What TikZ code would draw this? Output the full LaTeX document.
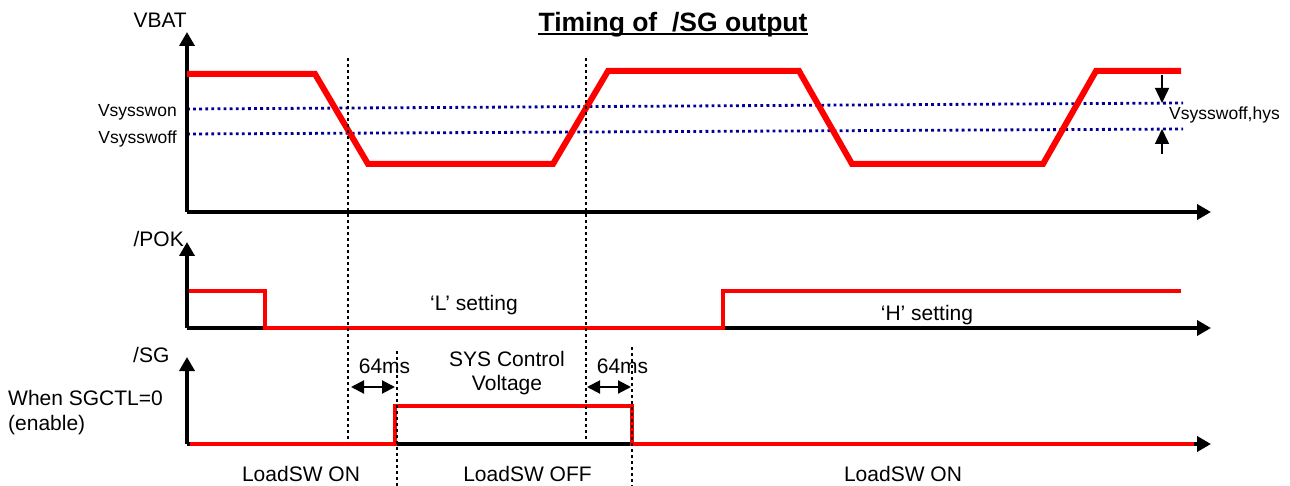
\documentclass[tikz,border=0pt]{standalone}
\usepackage{fontspec}
\setmainfont{Liberation Sans}
\usetikzlibrary{arrows.meta}
\definecolor{thrblue}{RGB}{0,0,150}
\definecolor{sigred}{RGB}{255,0,0}
\tikzset{
  axisline/.style={line width=3.8pt,-{Triangle[length=14pt,width=15pt]}},
  bigsig/.style={draw=sigred,line width=6pt,line join=miter},
  smallsig/.style={draw=sigred,line width=4pt,line join=miter},
  thrline/.style={draw=thrblue,line width=2.8pt,dash pattern=on 2.8pt off 3.3pt},
  vdots/.style={draw=black,line width=2.8pt,dash pattern=on 2.8pt off 3.2pt},
  hysarrow/.style={line width=1.5pt,-{Triangle[length=15pt,width=14pt]}},
  msarrow/.style={line width=2pt,{Triangle[length=13pt,width=13pt]}-{Triangle[length=13pt,width=13pt]}},
  lbl/.style={font=\fontsize{21}{24}\selectfont,inner sep=0pt},
  smalllbl/.style={font=\fontsize{17.5}{20}\selectfont,inner sep=0pt},
  titlelbl/.style={font=\fontsize{26.5}{30}\selectfont\bfseries,inner sep=0pt}
}
\begin{document}
\begin{tikzpicture}[x=1pt,y=-1pt]
\useasboundingbox (0,0) rectangle (1290,486);

% ---- coordinates: axes
\coordinate (vO) at (187,212);
\coordinate (vY) at (187,32);
\coordinate (vX) at (1211,212);
\coordinate (pO) at (187,328);
\coordinate (pY) at (187,242);
\coordinate (pX) at (1211,328);
\coordinate (sO) at (187,444);
\coordinate (sY) at (187,357);
\coordinate (sX) at (1211,444);

% ---- threshold lines
\coordinate (on1) at (187,109);
\coordinate (on2) at (1183,103);
\coordinate (off1) at (187,134);
\coordinate (off2) at (1183,129);
\draw[thrline] (on1) -- (on2);
\draw[thrline] (off1) -- (off2);

% ---- axes
\draw[axisline] (vO) -- (vY);
\draw[axisline] (vO) -- (vX);
\draw[axisline] (pO) -- (pY);
\draw[axisline] (pO) -- (pX);
\draw[axisline] (sO) -- (sY);
\draw[axisline] (sO) -- (sX);

% ---- VBAT trace
\coordinate (b0) at (187,74);
\coordinate (b1) at (315,74);
\coordinate (b2) at (368,164);
\coordinate (b3) at (553,164);
\coordinate (b4) at (608,71);
\coordinate (b5) at (799,71);
\coordinate (b6) at (852,164);
\coordinate (b7) at (1043,164);
\coordinate (b8) at (1096,71);
\coordinate (b9) at (1181,71);
\draw[bigsig] (b0) -- (b1) -- (b2) -- (b3) -- (b4) -- (b5) -- (b6) -- (b7) -- (b8) -- (b9);

% ---- /POK trace
\coordinate (p0) at (189,291);
\coordinate (p1) at (265,291);
\coordinate (p2) at (265,328);
\coordinate (p3) at (723,328);
\coordinate (p4) at (723,291);
\coordinate (p5) at (1181,291);
\draw[smallsig] (p0) -- (p1) -- (p2) -- (p3) -- (p4) -- (p5);

% ---- /SG trace
\coordinate (s0) at (190,444);
\coordinate (s1) at (395,444);
\coordinate (s2) at (395,406);
\coordinate (s3) at (632,406);
\coordinate (s4) at (632,444);
\coordinate (s5) at (1194,444);
\draw[black,line width=3.8pt] (s1) -- (s4);
\draw[smallsig,line width=4.5pt] (s0) -- (s1) -- (s2) -- (s3) -- (s4) -- (s5);

% ---- dotted time markers
\coordinate (d1t) at (348,58);
\coordinate (d1b) at (348,442);
\coordinate (d2t) at (586,58);
\coordinate (d2b) at (586,442);
\coordinate (d3t) at (397,351);
\coordinate (d3b) at (397,486);
\coordinate (d4t) at (632,347);
\coordinate (d4b) at (632,486);
\draw[vdots] (d1t) -- (d1b);
\draw[vdots] (d2t) -- (d2b);
\draw[vdots] (d3t) -- (d3b);
\draw[vdots] (d4t) -- (d4b);

% ---- hysteresis arrows
\coordinate (h1s) at (1162,75);
\coordinate (h1e) at (1162,103);
\coordinate (h2s) at (1162,154);
\coordinate (h2e) at (1162,129);
\draw[hysarrow] (h1s) -- (h1e);
\draw[hysarrow] (h2s) -- (h2e);

% ---- 64ms arrows
\coordinate (m1a) at (351,387);
\coordinate (m1b) at (395,387);
\coordinate (m2a) at (587,387);
\coordinate (m2b) at (631,387);
\draw[msarrow] (m1a) -- (m1b);
\draw[msarrow] (m2a) -- (m2b);

% ---- labels
\node[titlelbl,anchor=base] (title) at (673,32) {Timing of\ \ /SG output};
\draw[line width=2pt] ([yshift=-2.5pt]title.base west) -- ([yshift=-2.5pt]title.base east);
\node[lbl,anchor=base east] (lvbat) at (187,27.5) {VBAT};
\node[smalllbl,anchor=base east] (lon) at (177,116.5) {Vsysswon};
\node[smalllbl,anchor=base east] (loff) at (177,144) {Vsysswoff};
\node[smalllbl,anchor=base west] (lhys) at (1169,120) {Vsysswoff,hys};
\node[lbl,anchor=base east] (lpok) at (184,247) {/POK};
\node[lbl,anchor=base west] (lsg) at (133,362) {/SG};
\node[lbl,anchor=base west] (lwhen) at (8,405) {When SGCTL=0};
\node[lbl,anchor=base west] (lenable) at (8,430) {(enable)};
\node[lbl,anchor=base] (lLset) at (474,310) {‘L’ setting};
\node[lbl,anchor=base] (lHset) at (927,320) {‘H’ setting};
\node[lbl,anchor=base] (lsys1) at (507,366) {SYS Control};
\node[lbl,anchor=base] (lsys2) at (507,390) {Voltage};
\node[lbl,anchor=base] (lms1) at (384.5,373) {64ms};
\node[lbl,anchor=base] (lms2) at (622.5,373) {64ms};
\node[lbl,anchor=base] (lsw1) at (301,481) {LoadSW ON};
\node[lbl,anchor=base] (lsw2) at (527.5,481) {LoadSW OFF};
\node[lbl,anchor=base] (lsw3) at (903,481) {LoadSW ON};
\end{tikzpicture}
\end{document}
